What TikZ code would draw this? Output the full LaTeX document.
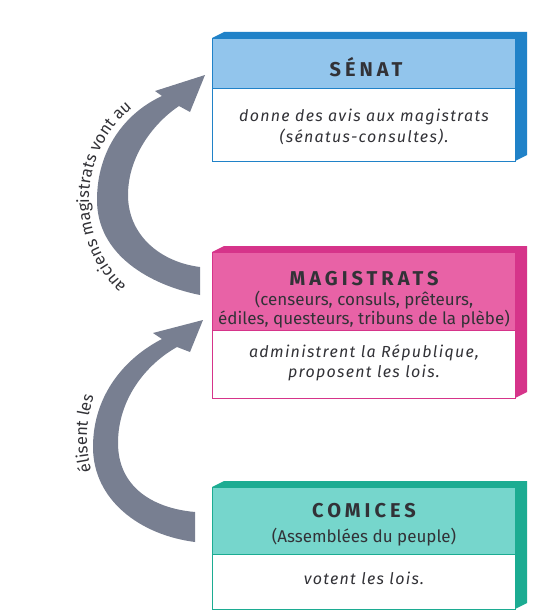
\documentclass[tikz,border=0pt]{standalone}
\usepackage{fontspec}
\setmainfont{Fira Sans}
\newfontfamily\headfont[LetterSpace=20.0]{Fira Sans}
\newfontfamily\bodyfont[LetterSpace=8.0]{Fira Sans}
\usetikzlibrary{decorations.text}

\definecolor{lightsenat}{RGB}{146,197,236}
\definecolor{darksenat}{RGB}{32,130,200}
\definecolor{lightmagi}{RGB}{232,98,166}
\definecolor{darkmagi}{RGB}{214,52,138}
\definecolor{lightcomi}{RGB}{118,214,204}
\definecolor{darkcomi}{RGB}{28,172,146}
\definecolor{arrowgray}{RGB}{120,127,145}
\definecolor{textgray}{RGB}{50,50,55}

\tikzset{
  titletext/.style={text=textgray, font=\headfont\bfseries\fontsize{20}{22}\selectfont},
  subtext/.style={text=textgray, font=\fontsize{17}{17}\selectfont, align=center},
  roletext/.style={text=textgray, font=\bodyfont\itshape\fontsize{16}{20.5}\selectfont, align=center},
  arctext/.style={decorate, decoration={text along path, text align=center,
    text={|\color{textgray}\fontsize{16.5}{18}\selectfont|#1}}},
}

\begin{document}
\begin{tikzpicture}[x=1pt,y=-1pt]
  \useasboundingbox (0,0) rectangle (538,610);

  % the three boxes: top / end of header / bottom / colour
  \foreach \t/\m/\b/\col in {38/88/161/senat, 252/330/398/magi, 487/554/609/comi} {
    \fill[dark\col] (212,\t) -- (224,\t-6) -- (527,\t-6) -- (527,\b-6) -- (515,\b) -- (515,\t) -- cycle;
    \fill[light\col] (212,\t) rectangle (515,\m);
    \fill[white] (212,\m) rectangle (515,\b);
    \draw[dark\col, line width=0.8] (212,\t) rectangle (515,\b);
    \draw[dark\col, line width=0.6] (212,\m) -- (515,\m);
  }

  \node[titletext] (senat) at (366,67) {SÉNAT};
  \node[roletext] (senatrole) at (364,127) {donne des avis aux magistrats\\(sénatus-consultes).};

  \node[titletext] (magistrats) at (364,279) {MAGISTRATS};
  \node[subtext] (magilist) at (364,310) {(censeurs, consuls, prêteurs,\\édiles, questeurs, tribuns de la plèbe)};
  \node[roletext] (magirole) at (364,363) {administrent la République,\\proposent les lois.};

  \node[titletext] (comices) at (364,511) {COMICES};
  \node[subtext] (comilist) at (364,537) {(Assemblées du peuple)};
  \node[roletext] (comirole) at (364,578) {votent les lois.};

  % curved arrows
  \fill[arrowgray] (200,295) .. controls (150,285) and (97,255) .. (97,200)
    .. controls (97,150) and (125,113) .. (162,96)
    -- (155,91) -- (205,75) -- (190,112) -- (179,106)
    .. controls (155,122) and (128,155) .. (128,195)
    .. controls (128,235) and (160,262) .. (200,267) -- cycle;
  \fill[arrowgray] (195,542) .. controls (140,535) and (93,500) .. (93,447)
    .. controls (93,395) and (125,358) .. (162,339)
    -- (153,333) -- (203,320) -- (190,352) -- (177,347)
    .. controls (145,365) and (118,400) .. (118,443)
    .. controls (118,485) and (150,508) .. (195,512) -- cycle;

  \path[arctext={anciens magistrats vont au}] (208,200) ++(129:119) arc[start angle=129, end angle=235, radius=119];
  \path[arctext={élisent les}] (215,438) ++(162:128) arc[start angle=162, end angle=202, radius=128];
\end{tikzpicture}
\end{document}
